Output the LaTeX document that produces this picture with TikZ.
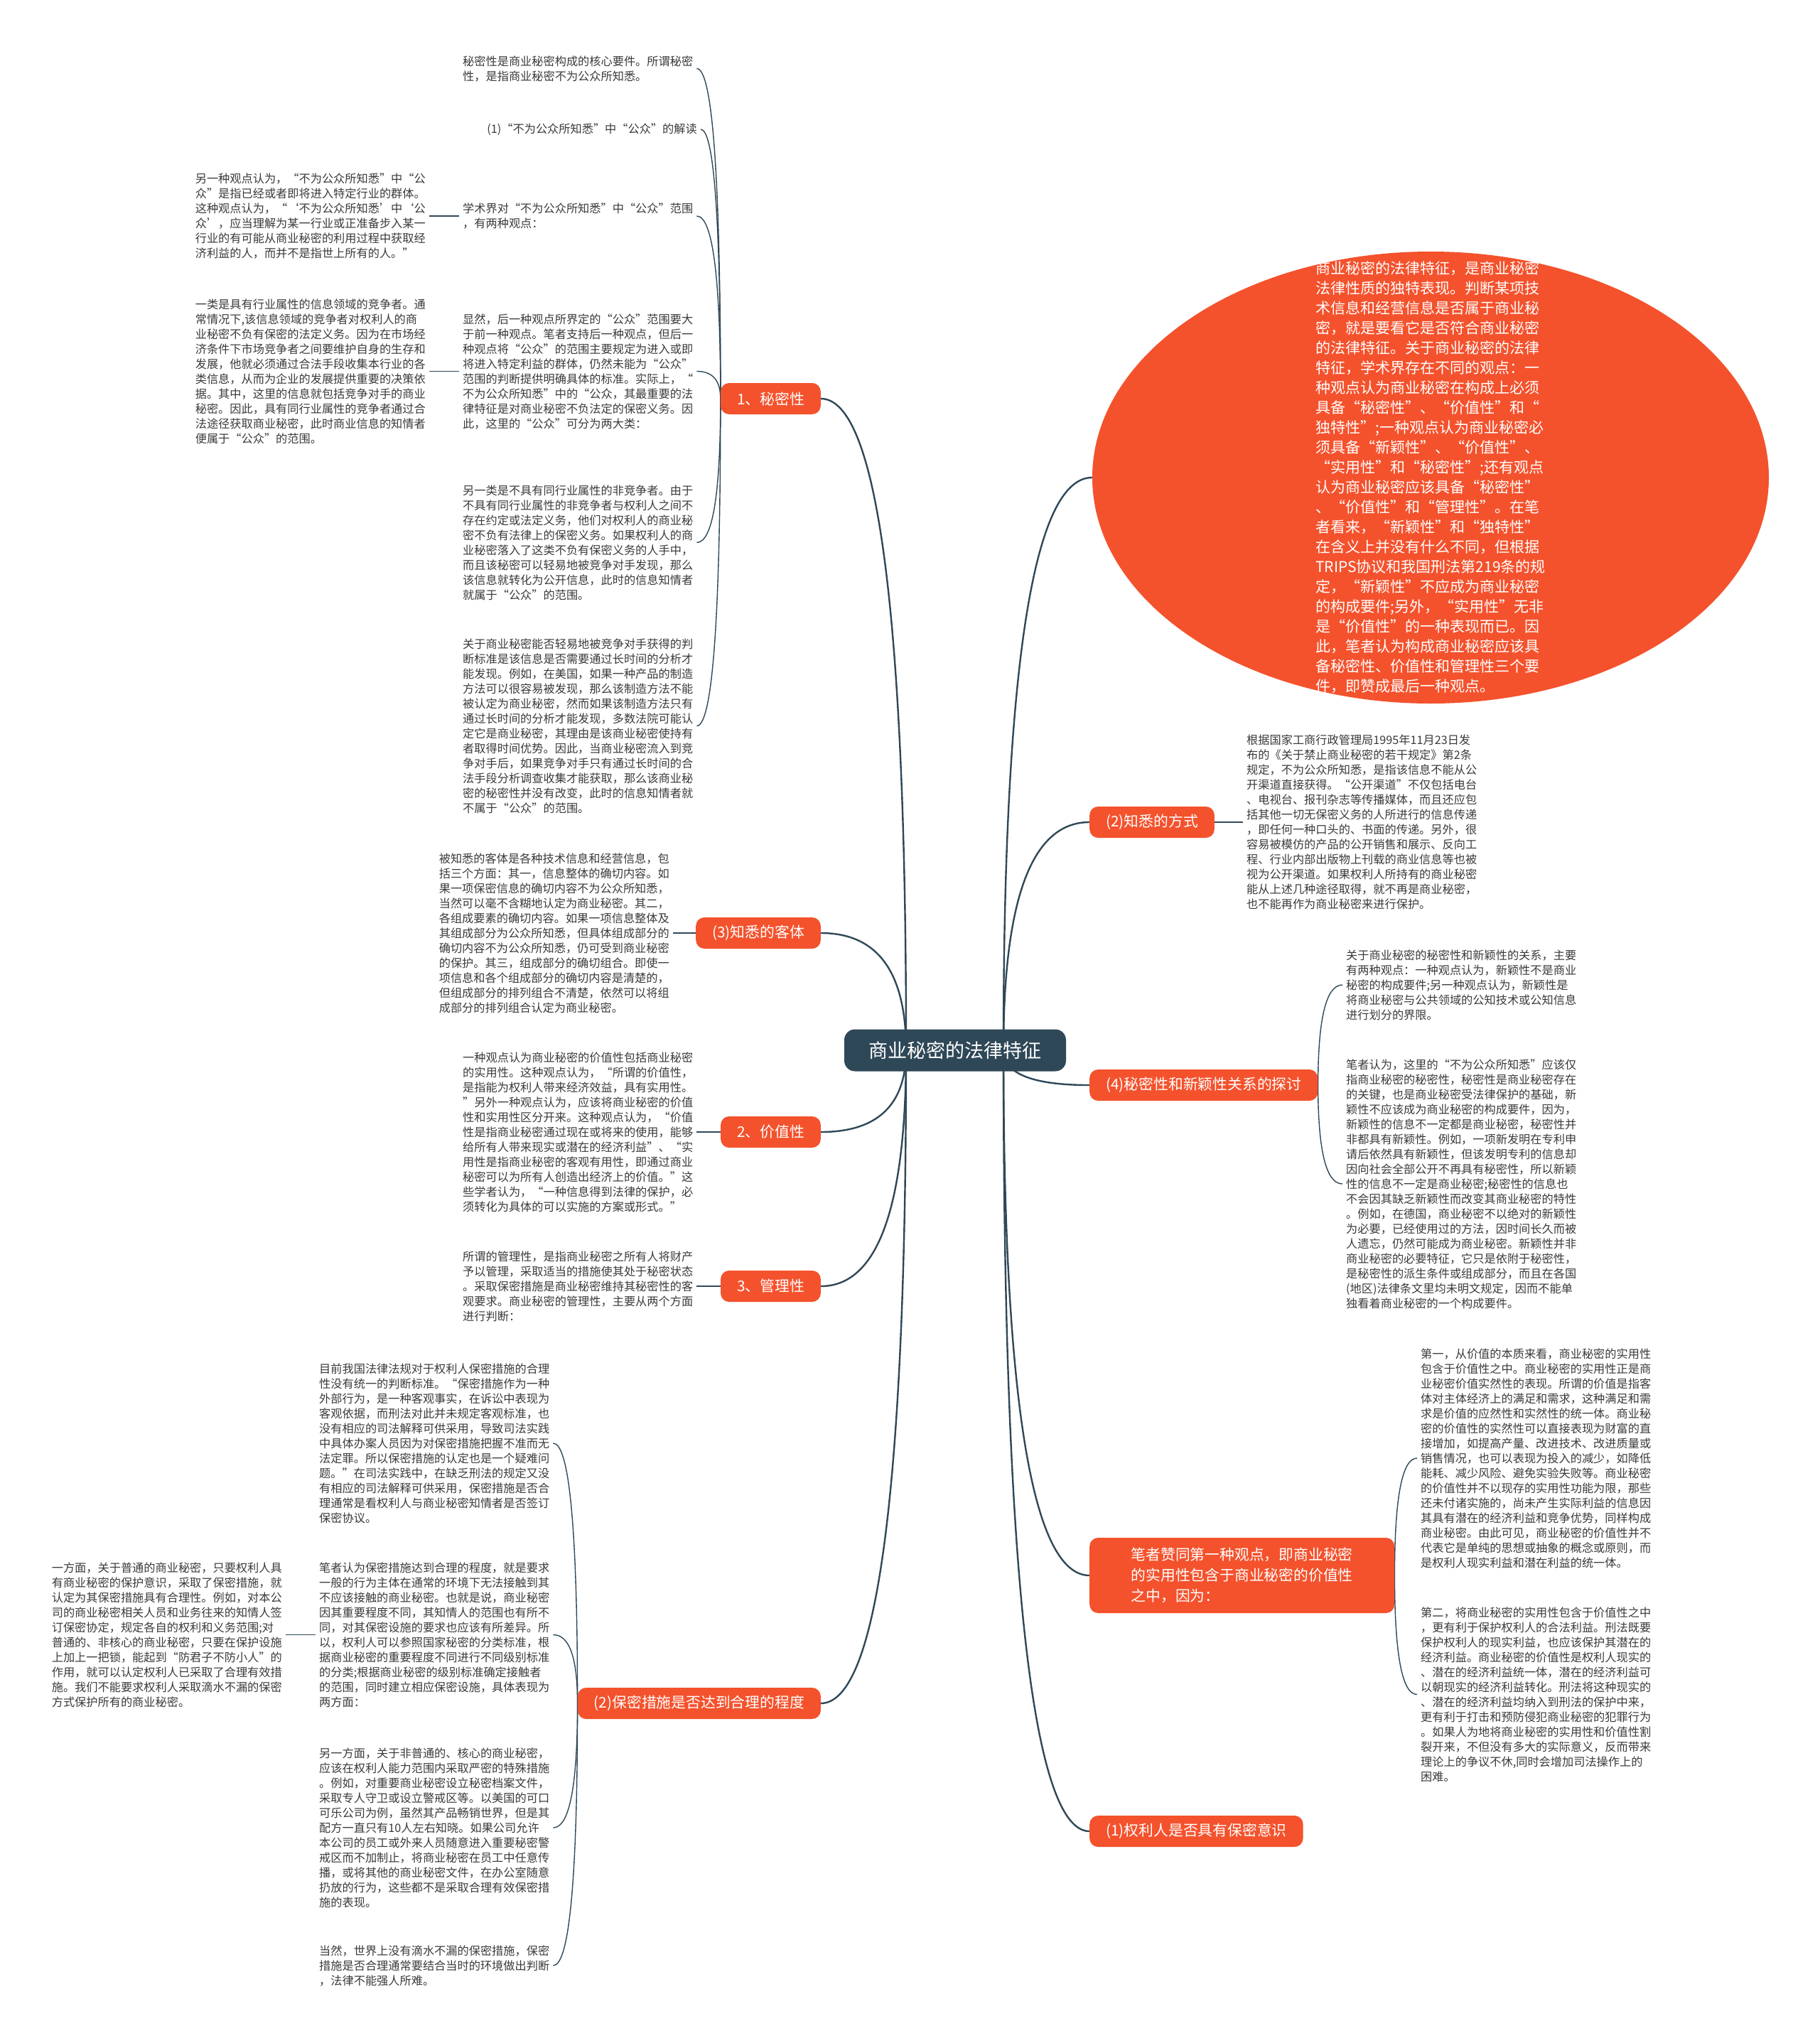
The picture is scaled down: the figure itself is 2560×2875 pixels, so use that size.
\documentclass[tikz,border=0pt]{standalone}
\usepackage{fontspec}
\setmainfont{Noto Sans CJK SC}
\usetikzlibrary{calc,shapes.geometric,backgrounds}
\definecolor{rootc}{HTML}{2F4858}
\definecolor{linec}{HTML}{2F4858}
\definecolor{orangec}{HTML}{F4522D}
\definecolor{txtc}{HTML}{3A3A3A}
\tikzset{
 txt/.style={inner sep=5pt, align=left, text=txtc, font=\fontsize{16.2}{21}\selectfont},
 branch/.style={rounded corners=12pt, fill=orangec, text=white, font=\fontsize{20.8}{29}\selectfont, inner xsep=23pt, inner ysep=0pt, minimum height=44pt},
 conn/.style={draw=linec, line width=1.4pt},
 mainconn/.style={draw=linec, line width=2.4pt},
}
\newcommand{\qc}[3][conn]{\draw[#1] (#2) .. controls ($(#2)!0.667!(#2 |- #3)$) and ($(#3)!0.667!(#2 |- #3)$) .. (#3);}
\begin{document}
\begin{tikzpicture}[x=1pt,y=-1pt]
\useasboundingbox (0,0) rectangle (2560,2875);

% root
\node[fill=rootc, rounded corners=15pt, minimum width=312pt, minimum height=59pt, text=white, font=\fontsize{27}{32}\selectfont] (root) at (1344,1478) {商业秘密的法律特征};
\coordinate (pl) at (1275,1478);
\coordinate (pr) at (1412,1478);

% left branches
\node[branch, anchor=east] (s1) at (1155,561) {1、秘密性};
\node[branch, anchor=east] (s3) at (1155,1313) {(3)知悉的客体};
\node[branch, anchor=east] (s2) at (1155,1593) {2、价值性};
\node[branch, anchor=east] (s4) at (1155,1810) {3、管理性};
\node[branch, anchor=east] (s5) at (1155,2397) {(2)保密措施是否达到合理的程度};

% right branches
\node[ellipse, fill=orangec, minimum width=952pt, minimum height=636pt, inner sep=0pt] (ell) at (2013,672) {};
\node[align=left, text=white, inner sep=0pt, font=\fontsize{21}{28}\selectfont] (elltxt) at (2013,672) {商业秘密的法律特征，是商业秘密\\法律性质的独特表现。判断某项技\\术信息和经营信息是否属于商业秘\\密，就是要看它是否符合商业秘密\\的法律特征。关于商业秘密的法律\\特征，学术界存在不同的观点：一\\种观点认为商业秘密在构成上必须\\具备“秘密性”、“价值性”和“\\独特性”;一种观点认为商业秘密必\\须具备“新颖性”、“价值性”、\\“实用性”和“秘密性”;还有观点\\认为商业秘密应该具备“秘密性”\\、“价值性”和“管理性”。在笔\\者看来，“新颖性”和“独特性”\\在含义上并没有什么不同，但根据\\TRIPS协议和我国刑法第219条的规\\定，“新颖性”不应成为商业秘密\\的构成要件;另外，“实用性”无非\\是“价值性”的一种表现而已。因\\此，笔者认为构成商业秘密应该具\\备秘密性、价值性和管理性三个要\\件，即赞成最后一种观点。};
\node[branch, anchor=west] (r2) at (1533,1157) {(2)知悉的方式};
\node[branch, anchor=west] (r4) at (1533,1527) {(4)秘密性和新颖性关系的探讨};
\node[branch, anchor=west, align=left, inner xsep=0pt, inner ysep=11pt, text width=312pt, minimum width=429pt, minimum height=106pt] (r5) at (1533,2217) {笔者赞同第一种观点，即商业秘密\\的实用性包含于商业秘密的价值性\\之中，因为：};
\node[branch, anchor=west] (r1) at (1533,2577) {(1)权利人是否具有保密意识};

% texts under 1、秘密性
\node[txt, anchor=west] (A) at (646,96.5) {秘密性是商业秘密构成的核心要件。所谓秘密\\性，是指商业秘密不为公众所知悉。};
\node[txt, anchor=east] (B) at (986,182) {(1)“不为公众所知悉”中“公众”的解读};
\node[txt, anchor=west] (D) at (646,304) {学术界对“不为公众所知悉”中“公众”范围\\，有两种观点：};
\node[txt, anchor=west] (F) at (646,522.5) {显然，后一种观点所界定的“公众”范围要大\\于前一种观点。笔者支持后一种观点，但后一\\种观点将“公众”的范围主要规定为进入或即\\将进入特定利益的群体，仍然未能为“公众”\\范围的判断提供明确具体的标准。实际上，“\\不为公众所知悉”中的“公众，其最重要的法\\律特征是对商业秘密不负法定的保密义务。因\\此，这里的“公众”可分为两大类：};
\node[txt, anchor=west] (G) at (646,763.5) {另一类是不具有同行业属性的非竞争者。由于\\不具有同行业属性的非竞争者与权利人之间不\\存在约定或法定义务，他们对权利人的商业秘\\密不负有法律上的保密义务。如果权利人的商\\业秘密落入了这类不负有保密义务的人手中，\\而且该秘密可以轻易地被竞争对手发现，那么\\该信息就转化为公开信息，此时的信息知情者\\就属于“公众”的范围。};
\node[txt, anchor=west] (H) at (646,1021.5) {关于商业秘密能否轻易地被竞争对手获得的判\\断标准是该信息是否需要通过长时间的分析才\\能发现。例如，在美国，如果一种产品的制造\\方法可以很容易被发现，那么该制造方法不能\\被认定为商业秘密，然而如果该制造方法只有\\通过长时间的分析才能发现，多数法院可能认\\定它是商业秘密，其理由是该商业秘密使持有\\者取得时间优势。因此，当商业秘密流入到竞\\争对手后，如果竞争对手只有通过长时间的合\\法手段分析调查收集才能获取，那么该商业秘\\密的秘密性并没有改变，此时的信息知情者就\\不属于“公众”的范围。};
\node[txt, anchor=east] (C) at ($(D.west)+(-42,0)$) {另一种观点认为，“不为公众所知悉”中“公\\众”是指已经或者即将进入特定行业的群体。\\这种观点认为，“‘不为公众所知悉’中‘公\\众’，应当理解为某一行业或正准备步入某一\\行业的有可能从商业秘密的利用过程中获取经\\济利益的人，而并不是指世上所有的人。”};
\node[txt, anchor=east] (E) at ($(F.west)+(-42,0)$) {一类是具有行业属性的信息领域的竞争者。通\\常情况下,该信息领域的竞争者对权利人的商\\业秘密不负有保密的法定义务。因为在市场经\\济条件下市场竞争者之间要维护自身的生存和\\发展，他就必须通过合法手段收集本行业的各\\类信息，从而为企业的发展提供重要的决策依\\据。其中，这里的信息就包括竞争对手的商业\\秘密。因此，具有同行业属性的竞争者通过合\\法途径获取商业秘密，此时商业信息的知情者\\便属于“公众”的范围。};

% (3)
\node[txt, anchor=east] (I) at ($(s3.west)+(-32,0)$) {被知悉的客体是各种技术信息和经营信息，包\\括三个方面：其一，信息整体的确切内容。如\\果一项保密信息的确切内容不为公众所知悉，\\当然可以毫不含糊地认定为商业秘密。其二，\\各组成要素的确切内容。如果一项信息整体及\\其组成部分为公众所知悉，但具体组成部分的\\确切内容不为公众所知悉，仍可受到商业秘密\\的保护。其三，组成部分的确切组合。即使一\\项信息和各个组成部分的确切内容是清楚的，\\但组成部分的排列组合不清楚，依然可以将组\\成部分的排列组合认定为商业秘密。};
% 2
\node[txt, anchor=west] (J) at (646,1593) {一种观点认为商业秘密的价值性包括商业秘密\\的实用性。这种观点认为，“所谓的价值性，\\是指能为权利人带来经济效益，具有实用性。\\”另外一种观点认为，应该将商业秘密的价值\\性和实用性区分开来。这种观点认为，“价值\\性是指商业秘密通过现在或将来的使用，能够\\给所有人带来现实或潜在的经济利益”、“实\\用性是指商业秘密的客观有用性，即通过商业\\秘密可以为所有人创造出经济上的价值。”这\\些学者认为，“一种信息得到法律的保护，必\\须转化为具体的可以实施的方案或形式。”};
% 3
\node[txt, anchor=west] (K) at (646,1810) {所谓的管理性，是指商业秘密之所有人将财产\\予以管理，采取适当的措施使其处于秘密状态\\。采取保密措施是商业秘密维持其秘密性的客\\观要求。商业秘密的管理性，主要从两个方面\\进行判断：};

% (2) 保密措施
\node[txt, anchor=west] (L) at (444,2031) {目前我国法律法规对于权利人保密措施的合理\\性没有统一的判断标准。“保密措施作为一种\\外部行为，是一种客观事实，在诉讼中表现为\\客观依据，而刑法对此并未规定客观标准，也\\没有相应的司法解释可供采用，导致司法实践\\中具体办案人员因为对保密措施把握不准而无\\法定罪。所以保密措施的认定也是一个疑难问\\题。”在司法实践中，在缺乏刑法的规定又没\\有相应的司法解释可供采用，保密措施是否合\\理通常是看权利人与商业秘密知情者是否签订\\保密协议。};
\node[txt, anchor=west] (N) at (444,2300.5) {笔者认为保密措施达到合理的程度，就是要求\\一般的行为主体在通常的环境下无法接触到其\\不应该接触的商业秘密。也就是说，商业秘密\\因其重要程度不同，其知情人的范围也有所不\\同，对其保密设施的要求也应该有所差异。所\\以，权利人可以参照国家秘密的分类标准，根\\据商业秘密的重要程度不同进行不同级别标准\\的分类;根据商业秘密的级别标准确定接触者\\的范围，同时建立相应保密设施，具体表现为\\两方面：};
\node[txt, anchor=east] (M) at ($(N.west)+(-42,0)$) {一方面，关于普通的商业秘密，只要权利人具\\有商业秘密的保护意识，采取了保密措施，就\\认定为其保密措施具有合理性。例如，对本公\\司的商业秘密相关人员和业务往来的知情人签\\订保密协定，规定各自的权利和义务范围;对\\普通的、非核心的商业秘密，只要在保护设施\\上加上一把锁，能起到“防君子不防小人”的\\作用，就可以认定权利人已采取了合理有效措\\施。我们不能要求权利人采取滴水不漏的保密\\方式保护所有的商业秘密。};
\node[txt, anchor=west] (O) at (444,2572) {另一方面，关于非普通的、核心的商业秘密，\\应该在权利人能力范围内采取严密的特殊措施\\。例如，对重要商业秘密设立秘密档案文件，\\采取专人守卫或设立警戒区等。以美国的可口\\可乐公司为例，虽然其产品畅销世界，但是其\\配方一直只有10人左右知晓。如果公司允许\\本公司的员工或外来人员随意进入重要秘密警\\戒区而不加制止，将商业秘密在员工中任意传\\播，或将其他的商业秘密文件，在办公室随意\\扔放的行为，这些都不是采取合理有效保密措\\施的表现。};
\node[txt, anchor=west] (P) at (444,2766) {当然，世界上没有滴水不漏的保密措施，保密\\措施是否合理通常要结合当时的环境做出判断\\，法律不能强人所难。};

% right texts
\node[txt, anchor=west] (R) at ($(r2.east)+(40,0)$) {根据国家工商行政管理局1995年11月23日发\\布的《关于禁止商业秘密的若干规定》第2条\\规定，不为公众所知悉，是指该信息不能从公\\开渠道直接获得。“公开渠道”不仅包括电台\\、电视台、报刊杂志等传播媒体，而且还应包\\括其他一切无保密义务的人所进行的信息传递\\，即任何一种口头的、书面的传递。另外，很\\容易被模仿的产品的公开销售和展示、反向工\\程、行业内部出版物上刊载的商业信息等也被\\视为公开渠道。如果权利人所持有的商业秘密\\能从上述几种途径取得，就不再是商业秘密，\\也不能再作为商业秘密来进行保护。};
\node[txt, anchor=west] (S) at (1889,1386) {关于商业秘密的秘密性和新颖性的关系，主要\\有两种观点：一种观点认为，新颖性不是商业\\秘密的构成要件;另一种观点认为，新颖性是\\将商业秘密与公共领域的公知技术或公知信息\\进行划分的界限。};
\node[txt, anchor=west] (T) at (1889,1666) {笔者认为，这里的“不为公众所知悉”应该仅\\指商业秘密的秘密性，秘密性是商业秘密存在\\的关键，也是商业秘密受法律保护的基础，新\\颖性不应该成为商业秘密的构成要件，因为，\\新颖性的信息不一定都是商业秘密，秘密性并\\非都具有新颖性。例如，一项新发明在专利申\\请后依然具有新颖性，但该发明专利的信息却\\因向社会全部公开不再具有秘密性，所以新颖\\性的信息不一定是商业秘密;秘密性的信息也\\不会因其缺乏新颖性而改变其商业秘密的特性\\。例如，在德国，商业秘密不以绝对的新颖性\\为必要，已经使用过的方法，因时间长久而被\\人遗忘，仍然可能成为商业秘密。新颖性并非\\商业秘密的必要特征，它只是依附于秘密性，\\是秘密性的派生条件或组成部分，而且在各国\\(地区)法律条文里均未明文规定，因而不能单\\独看着商业秘密的一个构成要件。};
\node[txt, anchor=west] (U) at (1994,2052) {第一，从价值的本质来看，商业秘密的实用性\\包含于价值性之中。商业秘密的实用性正是商\\业秘密价值实然性的表现。所谓的价值是指客\\体对主体经济上的满足和需求，这种满足和需\\求是价值的应然性和实然性的统一体。商业秘\\密的价值性的实然性可以直接表现为财富的直\\接增加，如提高产量、改进技术、改进质量或\\销售情况，也可以表现为投入的减少，如降低\\能耗、减少风险、避免实验失败等。商业秘密\\的价值性并不以现存的实用性功能为限，那些\\还未付诸实施的，尚未产生实际利益的信息因\\其具有潜在的经济利益和竞争优势，同样构成\\商业秘密。由此可见，商业秘密的价值性并不\\代表它是单纯的思想或抽象的概念或原则，而\\是权利人现实利益和潜在利益的统一体。};
\node[txt, anchor=west] (V) at (1994,2384.5) {第二，将商业秘密的实用性包含于价值性之中\\，更有利于保护权利人的合法利益。刑法既要\\保护权利人的现实利益，也应该保护其潜在的\\经济利益。商业秘密的价值性是权利人现实的\\、潜在的经济利益统一体，潜在的经济利益可\\以朝现实的经济利益转化。刑法将这种现实的\\、潜在的经济利益均纳入到刑法的保护中来，\\更有利于打击和预防侵犯商业秘密的犯罪行为\\。如果人为地将商业秘密的实用性和价值性割\\裂开来，不但没有多大的实际意义，反而带来\\理论上的争议不休,同时会增加司法操作上的\\困难。};

\begin{scope}[on background layer]
\fill[white] (0,0) rectangle (2560,2875);
% root connectors
\qc[mainconn]{pl}{s1.east}
\qc[mainconn]{pl}{s3.east}
\qc[mainconn]{pl}{s2.east}
\qc[mainconn]{pl}{s4.east}
\qc[mainconn]{pl}{s5.east}
\qc[mainconn]{pr}{ell.west}
\qc[mainconn]{pr}{r2.west}
\qc[mainconn]{pr}{r4.west}
\qc[mainconn]{pr}{r5.west}
\qc[mainconn]{pr}{r1.west}
% level 2
\qc{s1.west}{A.east}
\qc{s1.west}{B.east}
\qc{s1.west}{D.east}
\qc{s1.west}{F.east}
\qc{s1.west}{G.east}
\qc{s1.west}{H.east}
\draw[conn] (D.west) -- (C.east);
\draw[conn] (F.west) -- (E.east);
\draw[conn] (s3.west) -- (I.east);
\draw[conn] (s2.west) -- (J.east);
\draw[conn] (s4.west) -- (K.east);
\qc{s5.west}{L.east}
\qc{s5.west}{N.east}
\qc{s5.west}{O.east}
\qc{s5.west}{P.east}
\draw[conn] (N.west) -- (M.east);
\draw[conn] (r2.east) -- (R.west);
\qc{r4.east}{S.west}
\qc{r4.east}{T.west}
\qc{r5.east}{U.west}
\qc{r5.east}{V.west}
\end{scope}
\end{tikzpicture}
\end{document}
